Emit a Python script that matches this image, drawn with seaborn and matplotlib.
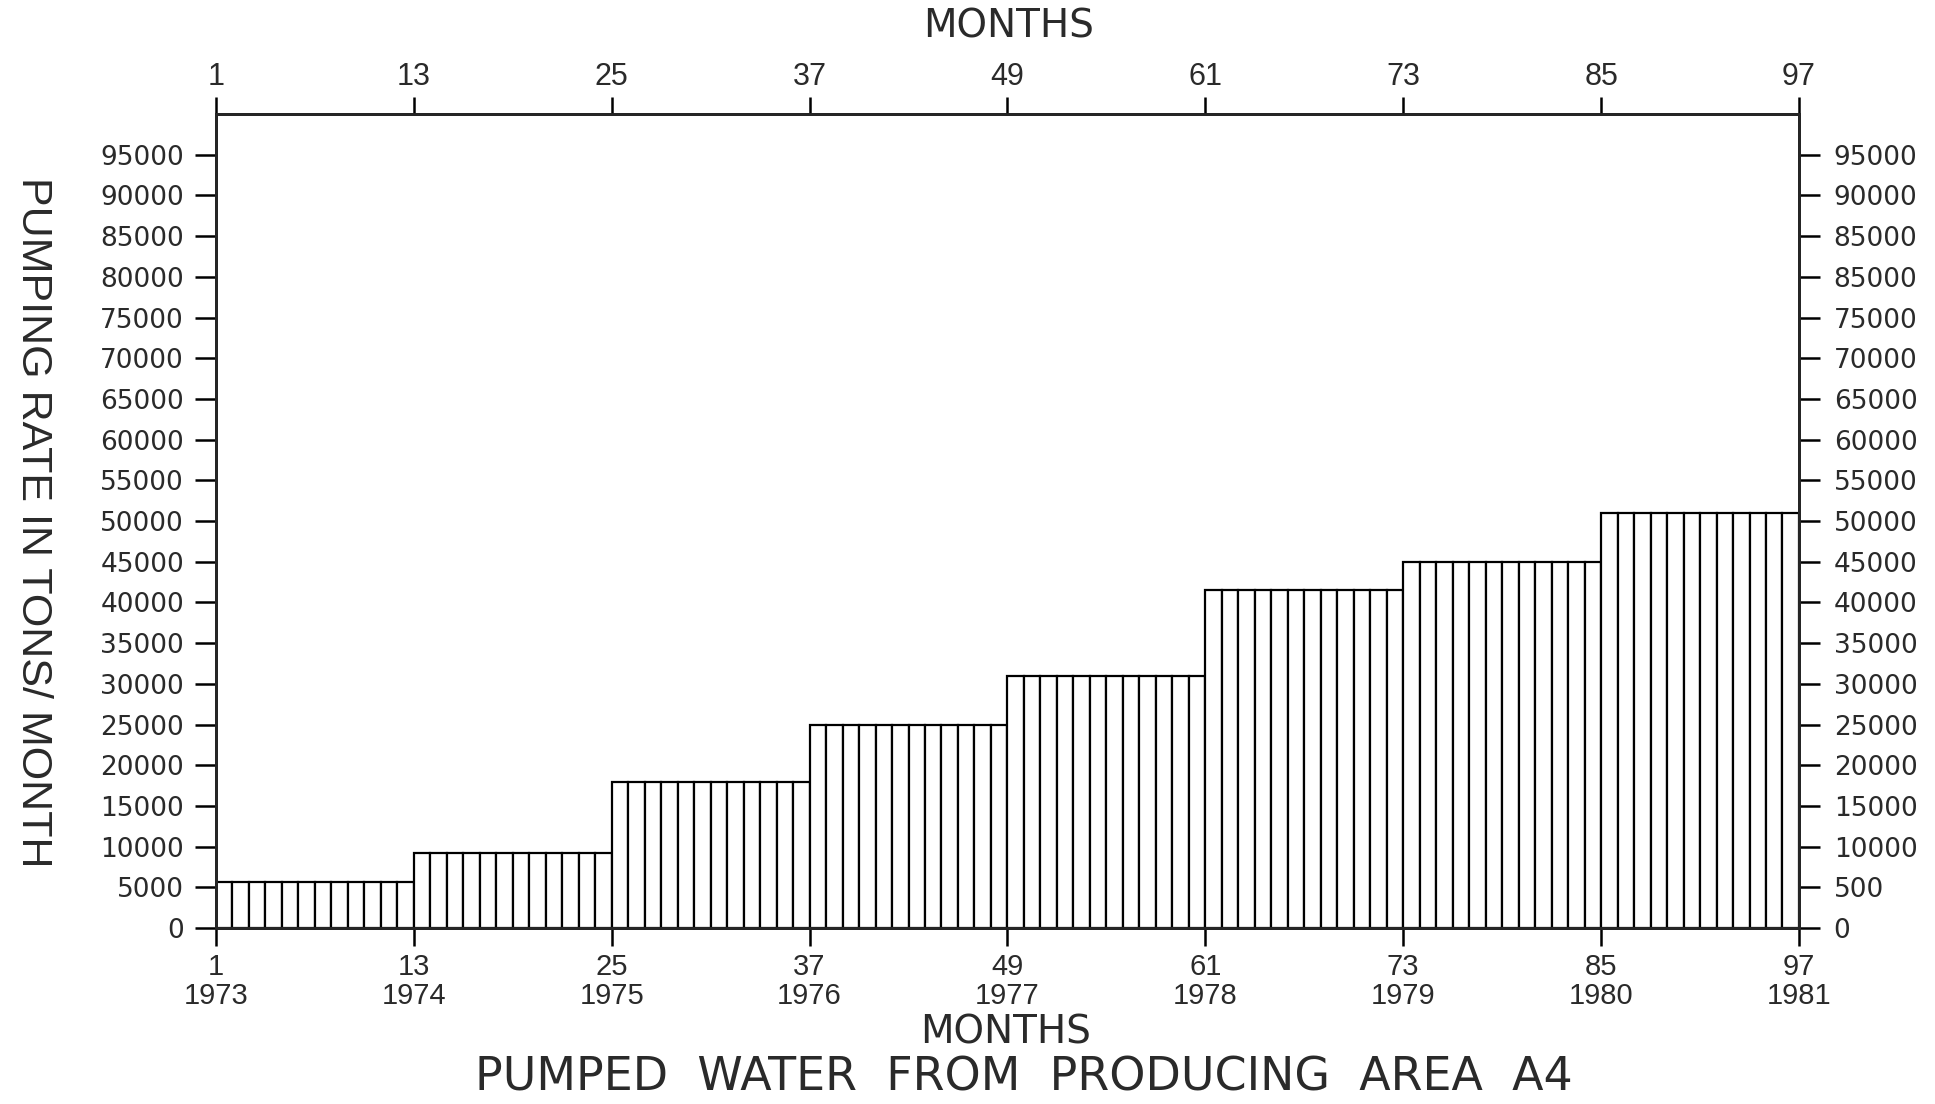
import numpy as np
import pandas as pd
import seaborn as sns
import matplotlib.pyplot as plt

# pumping rate per year (tons / month), constant within each year
years = [1973, 1974, 1975, 1976, 1977, 1978, 1979, 1980, 1981]
year_rates = [5700, 9200, 18000, 25000, 31000, 41500, 45000, 51000]

months = np.arange(1, 97)
rates = np.repeat(year_rates, 12)
df = pd.DataFrame({"month": months, "rate": rates})

month_ticks = [1, 13, 25, 37, 49, 61, 73, 85, 97]
left_ticks = list(range(0, 100000, 5000))
right_labels = ["0", "500", "10000", "15000", "20000", "25000", "30000", "35000",
                "40000", "45000", "50000", "55000", "60000", "65000", "70000",
                "75000", "85000", "85000", "90000", "95000"]

sns.set_style("ticks")
plt.rcParams['font.family'] = ['Liberation Sans', 'DejaVu Sans']
wide = ['DejaVu Sans']
ink = "#2a2a2a"

fig = plt.figure(figsize=(19.35, 11.04), dpi=100)
ax = fig.add_axes([0.1116, 0.1594, 0.9297 - 0.1116, 0.8967 - 0.1594])

sns.histplot(data=df, x="month", weights="rate", bins=96, binrange=(1, 97),
             color="white", edgecolor="black", linewidth=1.6, alpha=1, ax=ax)

ax.set_xlim(1, 97)
ax.set_ylim(0, 100000)
ax.set_xlabel("")
ax.set_ylabel("")
for s in ax.spines.values():
    s.set_visible(True)
    s.set_linewidth(2)
    s.set_color("black")

# left axis
ax.set_yticks(left_ticks)
ax.set_yticklabels([str(v) for v in left_ticks], fontsize=19, family=wide, color=ink)
# bottom axis
ax.set_xticks(month_ticks)
ax.set_xticklabels([f"{m}\n{y}" for m, y in zip(month_ticks, years)], fontsize=21,
                   color=ink, linespacing=1.05)
ax.tick_params(axis="y", direction="out", length=15, width=1.8, pad=8, colors="black",
               labelcolor=ink)
ax.tick_params(axis="x", direction="out", length=13, width=1.8, pad=5, colors="black",
               labelcolor=ink)

# right axis
axr = ax.twinx()
axr.set_ylim(0, 100000)
axr.set_yticks(left_ticks)
axr.set_yticklabels(right_labels, fontsize=19, family=wide, color=ink)
axr.tick_params(axis="y", direction="out", length=15, width=1.8, pad=10, colors="black",
                labelcolor=ink)
for s in axr.spines.values():
    s.set_linewidth(2)

# top axis
axt = ax.twiny()
axt.set_xlim(1, 97)
axt.set_xticks(month_ticks)
axt.set_xticklabels([str(m) for m in month_ticks], fontsize=22, color=ink)
axt.tick_params(axis="x", direction="out", length=12, width=1.8, pad=4, colors="black",
                labelcolor=ink)
for s in axt.spines.values():
    s.set_linewidth(2)

fig.text(1009 / 1935, 1 - 26 / 1104, "MONTHS", ha="center", va="center",
         fontsize=28, family=wide, color=ink)
fig.text(1006 / 1935, 1 - 1033 / 1104, "MONTHS", ha="center", va="center",
         fontsize=28, family=wide, color=ink)
fig.text(1024 / 1935, 1 - 1078 / 1104, "PUMPED  WATER  FROM  PRODUCING  AREA  A4",
         ha="center", va="center", fontsize=33, family=wide, color=ink)
fig.text(33 / 1935, 1 - 522 / 1104, "PUMPING RATE IN TONS/ MONTH", rotation=-90,
         ha="center", va="center", fontsize=31, color=ink)

fig.savefig("out.png", dpi=100, facecolor="white")
